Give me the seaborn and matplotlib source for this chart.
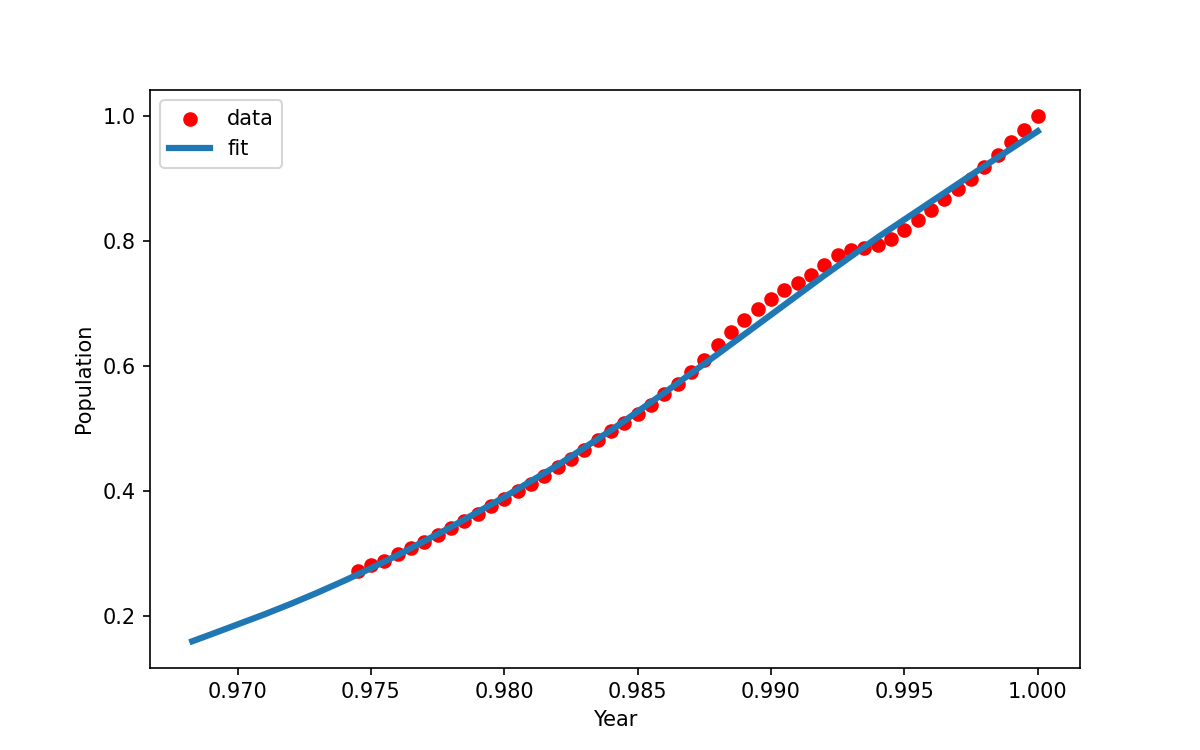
import matplotlib
matplotlib.use("Agg")
import matplotlib.pyplot as plt
import seaborn as sns

# 数据点: 年份 1949-2000 归一化 (year / 2000)
years = list(range(1949, 2001))
year_scaled = [y / 2000 for y in years]
population = [0.271, 0.281, 0.288, 0.298, 0.308, 0.318, 0.330, 0.341, 0.352, 0.363,
              0.375, 0.387, 0.399, 0.411, 0.423, 0.438, 0.451, 0.466, 0.481, 0.495,
              0.509, 0.523, 0.538, 0.555, 0.571, 0.590, 0.610, 0.633, 0.655, 0.674,
              0.691, 0.708, 0.722, 0.733, 0.746, 0.761, 0.777, 0.785, 0.789, 0.793,
              0.803, 0.818, 0.834, 0.850, 0.867, 0.883, 0.900, 0.919, 0.938, 0.958,
              0.978, 1.000]

# 拟合曲线
fit_x = [0.9683, 0.969, 0.970, 0.971, 0.972, 0.973, 0.974, 0.975, 0.976,
         0.978, 0.980, 0.982, 0.984, 0.986, 0.988, 0.990, 0.992, 0.994,
         0.996, 0.998, 1.000]
fit_y = [0.159, 0.170, 0.186, 0.202, 0.219, 0.237, 0.256, 0.276, 0.297,
         0.342, 0.390, 0.441, 0.497, 0.557, 0.619, 0.682, 0.745, 0.806,
         0.863, 0.920, 0.976]

fig, ax = plt.subplots(figsize=(8, 5), dpi=150)

sns.scatterplot(x=year_scaled, y=population, color='red', s=36,
                edgecolor='red', linewidth=1, label='data', ax=ax, zorder=2)
sns.lineplot(x=fit_x, y=fit_y, color='#1f77b4', linewidth=3,
             label='fit', ax=ax, zorder=3)

ax.set_xlabel('Year')
ax.set_ylabel('Population')
ax.legend(loc='upper left')

plt.savefig('out.png', dpi=150)
